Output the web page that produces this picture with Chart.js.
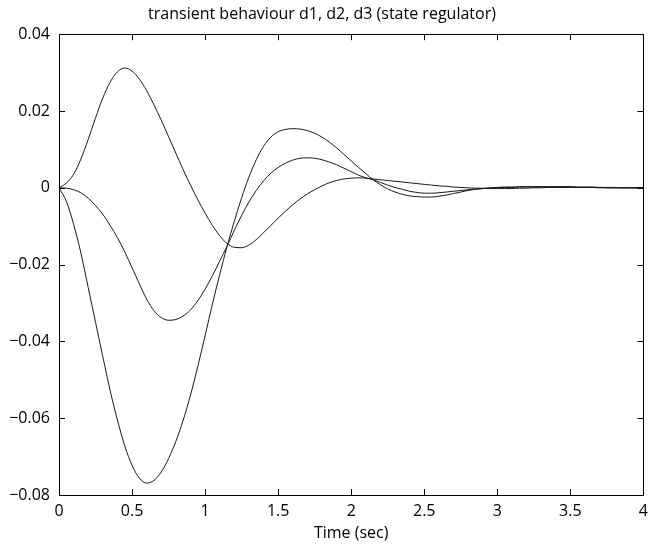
<!DOCTYPE html>
<html>
<head>
<meta charset="utf-8">
<script src="https://cdn.jsdelivr.net/npm/chart.js@4"></script>
<style>
  body { margin: 0; background: #fff; }
  canvas { display: block; }
</style>
</head>
<body>
<canvas id="transient" width="655" height="547"></canvas>
<script>
var times = [0, 0.05, 0.1, 0.15, 0.2, 0.25, 0.3, 0.35, 0.4, 0.45,
    0.5, 0.55, 0.6, 0.65, 0.7, 0.75, 0.8, 0.85, 0.9, 0.95,
    1, 1.05, 1.1, 1.15, 1.2, 1.25, 1.3, 1.35, 1.4, 1.45,
    1.5, 1.55, 1.6, 1.65, 1.7, 1.75, 1.8, 1.85, 1.9, 1.95,
    2, 2.05, 2.1, 2.15, 2.2, 2.25, 2.3, 2.35, 2.4, 2.45,
    2.5, 2.55, 2.6, 2.65, 2.7, 2.75, 2.8, 2.85, 2.9, 2.95,
    3, 3.05, 3.1, 3.15, 3.2, 3.25, 3.3, 3.35, 3.4, 3.45,
    3.5, 3.55, 3.6, 3.65, 3.7, 3.75, 3.8, 3.85, 3.9, 3.95, 4];

var d1 = [0, 0.0012, 0.0035, 0.0075, 0.0126, 0.0182, 0.0234, 0.0275, 0.0302, 0.0312,
    0.0304, 0.0283, 0.0253, 0.0216, 0.0176, 0.0133, 0.0090, 0.0047, 0.0007, -0.0031,
    -0.0066, -0.0098, -0.0125, -0.0145, -0.0155, -0.0156, -0.0149, -0.0135, -0.0117, -0.0098,
    -0.0079, -0.0061, -0.0044, -0.0029, -0.0016, -0.0005, 0.0005, 0.0013, 0.0019, 0.0023,
    0.0025, 0.0026, 0.0025, 0.0023, 0.0021, 0.0019, 0.0017, 0.0015, 0.0013, 0.0011,
    0.0009, 0.0007, 0.0005, 0.0004, 0.0002, 0.0001, 0.0000, -0.0001, -0.0001, -0.0002,
    -0.0002, -0.0002, -0.0002, -0.0001, -0.0001, 0.0000, 0.0000, 0.0001, 0.0001, 0.0001,
    0.0001, 0.0001, 0.0001, 0.0001, 0.0000, 0.0000, 0.0000, 0.0000, 0.0000, 0.0000, 0.0000];

var d2 = [0, -0.0001, -0.0005, -0.0013, -0.0027, -0.0046, -0.0069, -0.0098, -0.0130, -0.0167,
    -0.0208, -0.0250, -0.0290, -0.0320, -0.0338, -0.0345, -0.0343, -0.0334, -0.0318, -0.0294,
    -0.0264, -0.0229, -0.0191, -0.0152, -0.0111, -0.0072, -0.0037, -0.0007, 0.0018, 0.0038,
    0.0053, 0.0064, 0.0072, 0.0077, 0.0078, 0.0077, 0.0073, 0.0067, 0.0060, 0.0051,
    0.0042, 0.0033, 0.0026, 0.0021, 0.0014, 0.0007, 0.0001, -0.0004, -0.0009, -0.0012,
    -0.0014, -0.0014, -0.0013, -0.0011, -0.0009, -0.0007, -0.0005, -0.0003, -0.0002, -0.0001,
    0.0000, 0.0001, 0.0001, 0.0002, 0.0002, 0.0002, 0.0002, 0.0002, 0.0002, 0.0002,
    0.0002, 0.0001, 0.0001, 0.0001, 0.0001, 0.0000, 0.0000, 0.0000, 0.0000, 0.0000, 0.0000];

var d3 = [0, -0.0035, -0.0095, -0.0170, -0.0260, -0.0350, -0.0440, -0.0528, -0.0605, -0.0672,
    -0.0723, -0.0756, -0.0769, -0.0762, -0.0740, -0.0705, -0.0660, -0.0605, -0.0540, -0.0465,
    -0.0385, -0.0303, -0.0226, -0.0153, -0.0087, -0.0026, 0.0028, 0.0073, 0.0108, 0.0132,
    0.0146, 0.0152, 0.0154, 0.0153, 0.0149, 0.0142, 0.0132, 0.0119, 0.0104, 0.0087,
    0.0070, 0.0053, 0.0037, 0.0021, 0.0008, -0.0003, -0.0011, -0.0017, -0.0021, -0.0023,
    -0.0024, -0.0024, -0.0022, -0.0019, -0.0015, -0.0011, -0.0007, -0.0004, -0.0002, 0.0000,
    0.0001, 0.0002, 0.0002, 0.0003, 0.0003, 0.0003, 0.0003, 0.0003, 0.0003, 0.0003,
    0.0003, 0.0002, 0.0002, 0.0002, 0.0001, 0.0001, 0.0001, 0.0000, 0.0000, 0.0000, 0.0000];

var xTickLabels = ['0', '0.5', '1', '1.5', '2', '2.5', '3', '3.5', '4'];
var yTickLabels = ['\u22120.08', '\u22120.06', '\u22120.04', '\u22120.02', '0', '0.02', '0.04'];

var fontFamily = '"Open Sans", "DejaVu Sans", sans-serif';

function toPoints(values) {
    return times.map(function(t, i) { return { x: t, y: values[i] }; });
}

function lineSet(label, values) {
    return {
        label: label,
        data: toPoints(values),
        borderColor: '#1a1a1a',
        borderWidth: 1,
        pointRadius: 0,
        fill: false,
        cubicInterpolationMode: 'monotone'
    };
}

// box round the plot with the ticks pointing inwards, on all four sides
var frame = {
    id: 'frame',
    afterDatasetsDraw: function(chart) {
        var ctx = chart.ctx;
        var a = chart.chartArea;
        var xs = chart.scales.x;
        var ys = chart.scales.y;
        var len = 6;
        ctx.save();
        ctx.strokeStyle = '#000';
        ctx.lineWidth = 1;
        ctx.strokeRect(Math.round(a.left) + 0.5, Math.round(a.top) + 0.5,
            Math.round(a.right - a.left), Math.round(a.bottom - a.top));
        ctx.beginPath();
        xs.ticks.forEach(function(t) {
            var px = Math.round(xs.getPixelForValue(t.value)) + 0.5;
            ctx.moveTo(px, a.bottom);
            ctx.lineTo(px, a.bottom - len);
            ctx.moveTo(px, a.top);
            ctx.lineTo(px, a.top + len);
        });
        ys.ticks.forEach(function(t) {
            var py = Math.round(ys.getPixelForValue(t.value)) + 0.5;
            ctx.moveTo(a.left, py);
            ctx.lineTo(a.left + len, py);
            ctx.moveTo(a.right, py);
            ctx.lineTo(a.right - len, py);
        });
        ctx.stroke();
        ctx.restore();
    }
};

var ctx = document.getElementById('transient').getContext('2d');
new Chart(ctx, {
    type: 'line',
    data: {
        datasets: [lineSet('d1', d1), lineSet('d2', d2), lineSet('d3', d3)]
    },
    options: {
        responsive: false,
        animation: false,
        layout: { padding: { left: 0, right: 11, top: 0, bottom: 0 } },
        plugins: {
            legend: { display: false },
            tooltip: { enabled: false },
            title: {
                display: true,
                text: 'transient behaviour d1, d2, d3 (state regulator)',
                color: '#000',
                font: { family: fontFamily, size: 16, weight: 'normal', lineHeight: 1.2 },
                padding: { top: 5, bottom: 10 }
            }
        },
        scales: {
            x: {
                type: 'linear',
                min: 0,
                max: 4,
                grid: { display: false, drawTicks: false },
                border: { display: false },
                ticks: {
                    stepSize: 0.5,
                    autoSkip: false,
                    maxRotation: 0,
                    padding: 7,
                    color: '#000',
                    font: { family: fontFamily, size: 16 },
                    callback: function(value, index) { return xTickLabels[index]; }
                },
                title: {
                    display: true,
                    text: 'Time (sec)',
                    color: '#000',
                    font: { family: fontFamily, size: 16 },
                    padding: { top: 0, bottom: 4 }
                },
                afterFit: function(scale) { scale.height = 52; }
            },
            y: {
                min: -0.08,
                max: 0.04,
                grid: { display: false, drawTicks: false },
                border: { display: false },
                ticks: {
                    stepSize: 0.02,
                    padding: 9,
                    color: '#000',
                    font: { family: fontFamily, size: 16 },
                    callback: function(value, index) { return yTickLabels[index]; }
                },
                afterFit: function(scale) { scale.width = 59; }
            }
        }
    },
    plugins: [frame]
});
</script>
</body>
</html>
